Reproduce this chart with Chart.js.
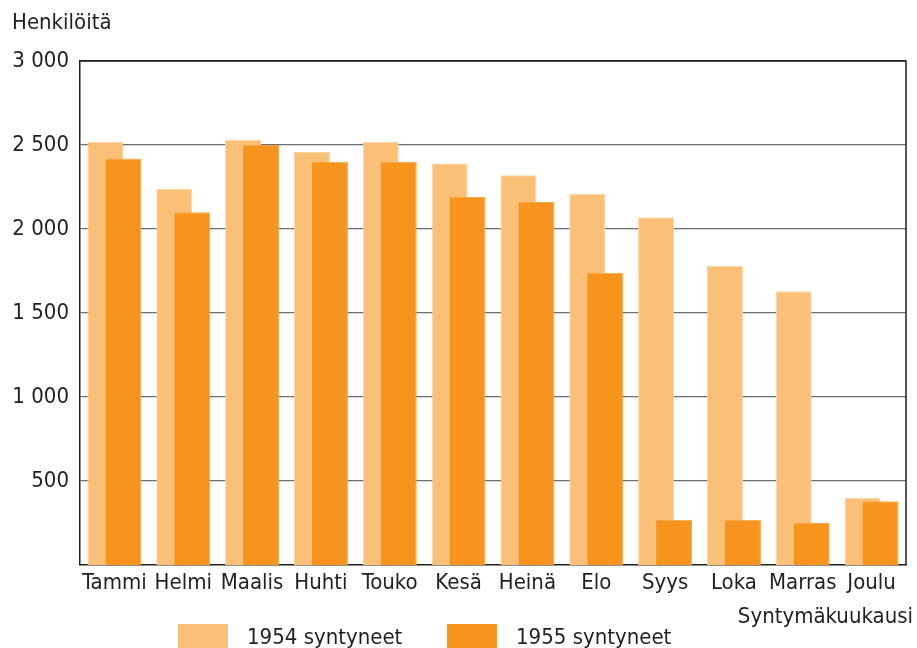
<!DOCTYPE html>
<html>
<head>
<meta charset="utf-8">
<script src="https://cdn.jsdelivr.net/npm/chart.js@4.4.1/dist/chart.umd.min.js"></script>
<style>
html,body{margin:0;padding:0;background:#fff;}
</style>
</head>
<body>
<canvas id="c" width="917" height="648"></canvas>
<script>
const months = ['Tammi','Helmi','Maalis','Huhti','Touko','Kesä','Heinä','Elo','Syys','Loka','Marras','Joulu'];
const born1954 = [2520,2240,2530,2460,2520,2390,2320,2210,2070,1780,1630,400];
const born1955 = [2420,2100,2500,2400,2400,2190,2160,1740,270,270,250,380];
const yTicks = [500,1000,1500,2000,2500,3000];
const seriesNames = ['1954 syntyneet','1955 syntyneet'];
const yTitle = 'Henkilöitä';
const xTitle = 'Syntymäkuukausi';

const FONT = '"DejaVu Sans Condensed", "DejaVu Sans", sans-serif';
const FS = 22;
const TXT = '#231F20';
const C1 = '#FBC077', C2 = '#F7941E';

const fmt = v => String(v).replace(/\B(?=(\d{3})+(?!\d))/g, ' ');

const extras = {
  id: 'extras',
  afterDatasetsDraw(chart) {
    const {ctx, chartArea: a} = chart;
    ctx.save();
    ctx.strokeStyle = TXT;
    ctx.lineWidth = 1.5;
    ctx.beginPath();
    ctx.moveTo(a.left, a.top); ctx.lineTo(a.right, a.top); ctx.lineTo(a.right, a.bottom);
    ctx.stroke();
    ctx.restore();
  },
  afterDraw(chart) {
    const {ctx} = chart;
    ctx.save();
    ctx.fillStyle = TXT;
    ctx.font = FS + 'px ' + FONT;
    ctx.textBaseline = 'alphabetic';
    ctx.textAlign = 'left';
    ctx.fillText(yTitle, 12, 29);
    ctx.textAlign = 'right';
    ctx.fillText(xTitle, 913, 623);
    ctx.textAlign = 'left';
    const cols = [C1, C2];
    const boxX = [178, 447];
    seriesNames.forEach((n, i) => {
      ctx.fillStyle = cols[i];
      ctx.fillRect(boxX[i], 624, 50, 24);
      ctx.fillStyle = TXT;
      ctx.fillText(n, boxX[i] + 69, 644);
    });
    ctx.restore();
  }
};

// 1955 listed first so it is drawn on top; negative category width puts it on the right of each pair
new Chart(document.getElementById('c'), {
  type: 'bar',
  data: {
    labels: months,
    datasets: [
      {label: seriesNames[1], data: born1955, backgroundColor: C2, borderColor: '#F8A540', borderWidth: {top:1,left:0,right:1,bottom:0}, borderSkipped: false},
      {label: seriesNames[0], data: born1954, backgroundColor: C1, borderColor: '#FDD4A2', borderWidth: {top:1,left:1,right:1,bottom:0}, borderSkipped: false}
    ]
  },
  options: {
    responsive: false,
    animation: false,
    categoryPercentage: -0.523,
    barPercentage: -2,
    layout: {padding: {left: 0, right: 11, top: 61, bottom: 0}},
    plugins: {legend: {display: false}, tooltip: {enabled: false}},
    scales: {
      x: {
        grid: {display: false, drawTicks: false},
        border: {display: true, color: TXT, width: 1.5},
        ticks: {color: TXT, font: {family: FONT, size: FS}, padding: 5, maxRotation: 0, autoSkip: false},
        afterFit(s) { s.height = 83; }
      },
      y: {
        min: 0, max: 3000,
        afterBuildTicks(s) { s.ticks = yTicks.map(v => ({value: v})); },
        grid: {color: ctx => ctx.tick && ctx.tick.value === 3000 ? TXT : '#6D6E71', lineWidth: 1.2, drawTicks: false},
        border: {display: true, color: TXT, width: 1.5},
        ticks: {color: TXT, font: {family: FONT, size: FS}, padding: 11, callback: v => fmt(v)},
        afterFit(s) { s.width = 80; }
      }
    }
  },
  plugins: [extras]
});
</script>
</body>
</html>
